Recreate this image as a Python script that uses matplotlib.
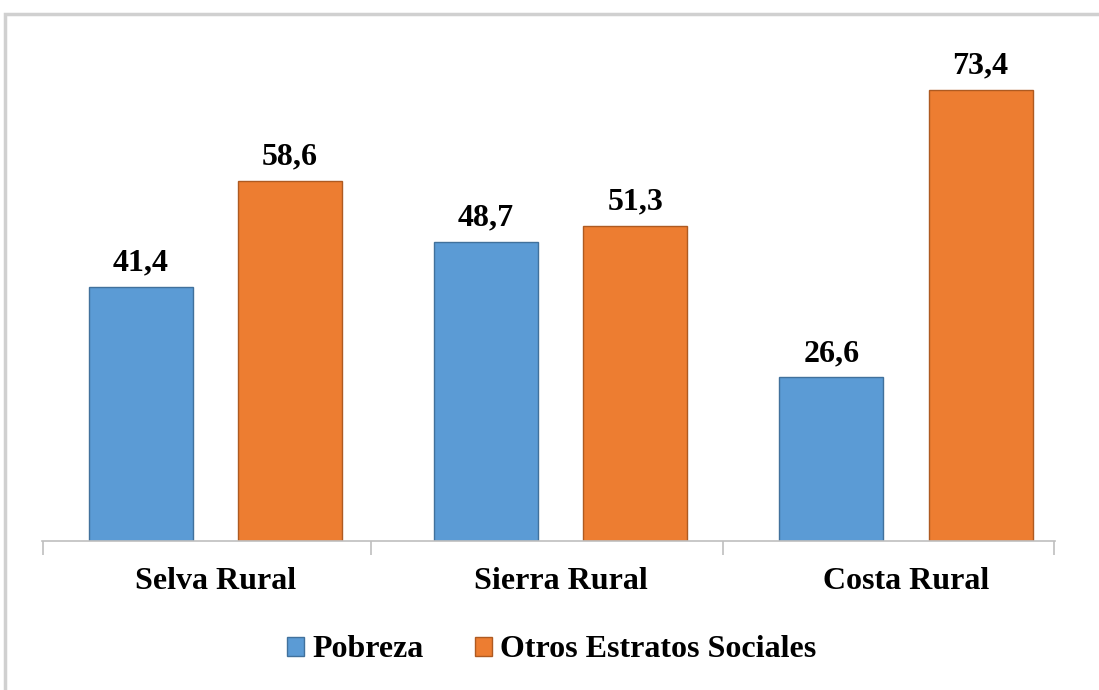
import numpy as np
import matplotlib.pyplot as plt
from matplotlib.patches import Rectangle

categories = ['Selva Rural', 'Sierra Rural', 'Costa Rural']
pobreza = [41.4, 48.7, 26.6]
otros = [58.6, 51.3, 73.4]
series_names = ['Pobreza', 'Otros Estratos Sociales']

plt.rcParams['font.family'] = ['Liberation Serif', 'DejaVu Serif']

fig = plt.figure(figsize=(10.99, 6.9), dpi=100)
# frame around the chart area
fig.patches.append(Rectangle((5 / 1099, -0.01), 1.02, 1 - 14 / 690 + 0.01,
                             transform=fig.transFigure, fill=False,
                             edgecolor='#d0d0d0', linewidth=2.5))

ax = fig.add_axes([42 / 1099, (690 - 541) / 690, (1055 - 42) / 1099, 501 / 690])

x = np.arange(len(categories))
w = 0.301
off = 0.216
b1 = ax.bar(x - off, pobreza, w, color='#5B9BD5', edgecolor='#41719C', linewidth=1, label=series_names[0])
b2 = ax.bar(x + off, otros, w, color='#ED7D31', edgecolor='#AE5A21', linewidth=1, label=series_names[1])

for bars, vals in [(b1, pobreza), (b2, otros)]:
    for bar, v in zip(bars, vals):
        ax.text(bar.get_x() + bar.get_width() / 2, v + 2.6, f'{v:.1f}'.replace('.', ','),
                ha='center', va='baseline', fontsize=23, fontweight='bold')

ax.set_xlim(-0.5025, 2.4316)
ax.set_ylim(0, 81.5)
ax.set_xticks(x)
ax.set_xticklabels(categories, fontsize=23, fontweight='bold')
ax.set_xticks([-0.5, 0.45, 1.47, 2.43], minor=True)
ax.tick_params(axis='x', which='major', length=0, pad=19)
ax.tick_params(axis='x', which='minor', length=10, color='#bfbfbf', width=1.2)
ax.set_yticks([])
for s in ['top', 'right', 'left']:
    ax.spines[s].set_visible(False)
ax.spines['bottom'].set_color('#bfbfbf')
ax.spines['bottom'].set_linewidth(1.2)

fig.legend(handles=[b1, b2], loc='center', bbox_to_anchor=(0.502, 0.058), ncol=2,
           frameon=False, prop={'size': 23, 'weight': 'bold'},
           handlelength=0.55, handleheight=0.55, handletextpad=0.25, columnspacing=1.6)

fig.savefig('out.png', dpi=100)
